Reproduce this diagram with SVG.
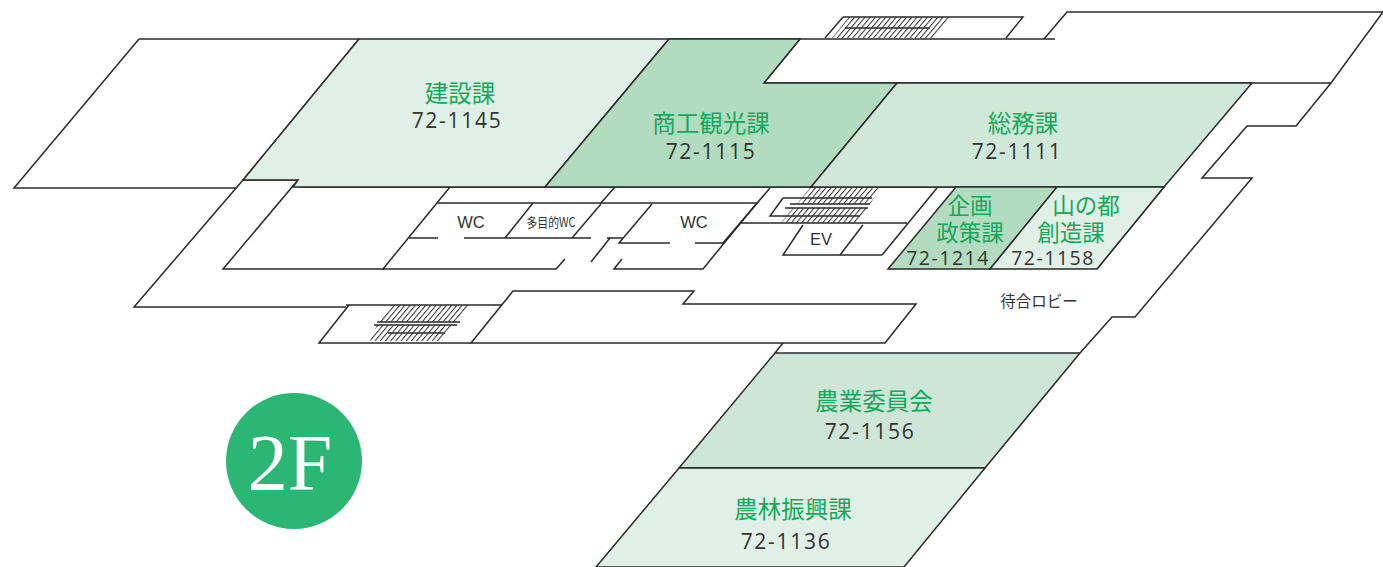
<svg xmlns="http://www.w3.org/2000/svg" width="1383" height="567" viewBox="0 0 1383 567">
<style>
.l{fill:none;stroke:#2a2a2a;stroke-width:1.5;stroke-linejoin:miter}
.r{stroke:#2a2a2a;stroke-width:1.5}
.a{fill:#e1f0e6}.b{fill:#b2dbc0}.c{fill:#d0e8d9}.d{fill:#cde6d7}
.n{font-family:"Noto Sans CJK JP","Noto Sans",sans-serif;font-size:23.5px;fill:#14a85a;text-anchor:middle}
.m{font-size:22.5px}
.p{font-family:"Open Sans","Liberation Sans",sans-serif;font-size:21px;fill:#333;text-anchor:middle;letter-spacing:1.7px}
.q{font-size:19.5px;letter-spacing:1.5px}
.s{font-family:"Liberation Sans",sans-serif;font-size:16.5px;fill:#333;text-anchor:middle}
.j{font-family:"Noto Sans CJK JP",sans-serif;fill:#333;text-anchor:middle}
.h{fill:url(#hatch);stroke:none}
</style>
<defs>
<pattern id="hatch" width="5.2" height="60" patternUnits="userSpaceOnUse" patternTransform="skewX(-40)"><rect x="0" y="0" width="1.3" height="60" fill="#333"/></pattern>
</defs>
<rect width="1383" height="567" fill="#fff"/>
<g id="connectors" class="l">
<path d="M139 39H359L243 180L134 307H346M139 39L14 188H237"/>
<path d="M243 180H298L223 269H384M298 187H1164"/>
<path d="M450 187L383 269H556L565 259"/>
<path d="M437 203H757M409 238H438M464 238H591M601 204L572 238M533 203L505 238M615 187L600 204"/>
<path d="M607 238H623M610 238L591 262M652 204L619 243H670M695 243H723M757 203L703 269H614L622 259"/>
<path d="M770 188L723 243M740 223H907M937 188L882 255"/>
<path d="M783 198H872M783 198L770 216H860M790 204H870M785 208H868"/>
<path d="M669 39H1055M800 39L764 83H1331L1383 12H1067L1044 39M1331 83L1296 126H1247L1202 178H1252L1135 317H1112L1080 353"/>
<path d="M1164 187L1097 269M783 343L775 353"/>
<path d="M513 291L471 343H885L916 304H683L694 291Z"/>
<path d="M346 305H502M349 305L319 343H471M377 322H460M374 325H457M388 333H445"/>
<path d="M843 17H1023L1006 38M843 17L825 38M845 28H930"/>
</g>
<g id="stairs">
<polygon class="h" points="392,305 470,305 458,322 378,322"/>
<polygon class="h" points="377,325 452,325 442,341 370,341"/>
<polygon class="h" points="810,188 881,188 870,204 797,204"/>
<polygon class="h" points="793,208 868,208 857,223 781,223"/>
<polygon class="h" points="849,17 950,17 935,38 832,38"/>
</g>
<g id="room-kensetsu"><polygon class="a r" points="359,39 669,39 545,187 293,187 298,180 243,180"/><text class="n" x="460" y="102">建設課</text><text class="p" x="457" y="128">72-1145</text></g>
<g id="room-shoko"><polygon class="b r" points="669,39 800,39 764,83 897,83 811,187 545,187"/><text class="n" x="711" y="132">商工観光課</text><text class="p" x="711" y="159">72-1115</text></g>
<g id="room-somu"><polygon class="c r" points="897,83 1252,83 1164,187 811,187"/><text class="n" x="1023" y="132">総務課</text><text class="p" x="1017" y="159">72-1111</text></g>
<g id="room-kikaku"><polygon class="b r" points="956,187 1057,187 990,269 888,269"/><text class="n m" x="970" y="214">企画</text><text class="n m" x="970" y="241">政策課</text><text class="p q" x="948" y="265">72-1214</text></g>
<g id="room-yamanomiyako"><polygon class="a r" points="1057,187 1164,187 1097,269 990,269"/><text class="n m" x="1086" y="214">山の都</text><text class="n m" x="1071" y="241">創造課</text><text class="p q" x="1053" y="265">72-1158</text></g>
<g id="room-nogyo"><polygon class="d r" points="775,353 1080,353 985,468 679,468"/><text class="n" x="874" y="410">農業委員会</text><text class="p" x="870" y="439">72-1156</text></g>
<g id="room-norin"><polygon class="a r" points="679,468 985,468 904,567 596,567"/><text class="n" x="793" y="518">農林振興課</text><text class="p" x="786" y="549">72-1136</text></g>
<g id="wc1"><text class="s" x="471" y="228">WC</text></g>
<g id="wc-multi"><text class="j" x="551" y="227" font-size="13" textLength="49" lengthAdjust="spacingAndGlyphs">多目的WC</text></g>
<g id="wc2"><text class="s" x="694" y="228">WC</text></g>
<g id="ev"><polyline class="l" points="803,225 783,255 882,255"/><line class="r" x1="863" y1="225" x2="840" y2="255"/><text class="s" x="821" y="245">EV</text></g>
<g id="lobby"><text class="j" x="1039" y="307" font-size="15.5">待合ロビー</text></g>
<g id="badge"><circle cx="294" cy="461" r="68" fill="#2bb673"/><text x="290" y="490" font-family="Liberation Serif,serif" font-size="80" fill="#fff" text-anchor="middle">2F</text></g>
</svg>
